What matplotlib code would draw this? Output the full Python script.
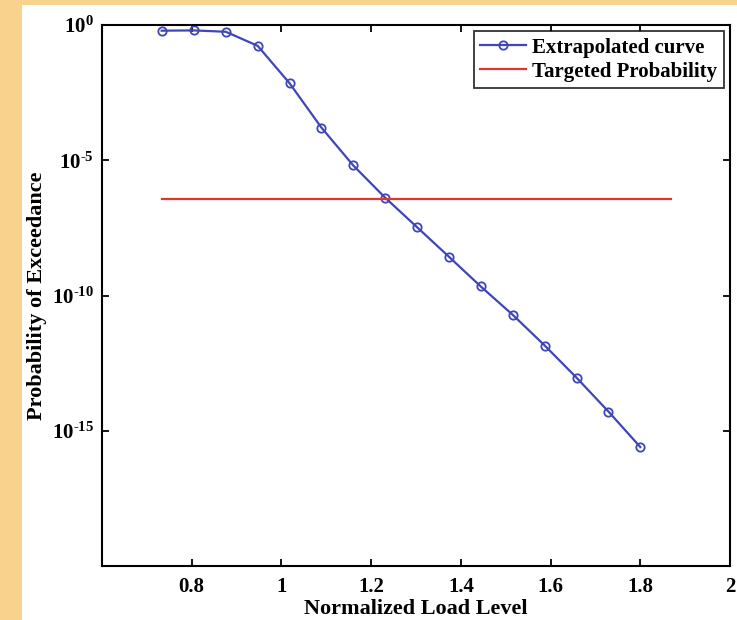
import numpy as np
import matplotlib
matplotlib.use("Agg")
import matplotlib.pyplot as plt
from matplotlib.patches import Rectangle
from matplotlib.ticker import FixedLocator, FixedFormatter

load_level = [0.733, 0.804, 0.876, 0.947, 1.018, 1.089, 1.160, 1.231,
              1.302, 1.373, 1.444, 1.516, 1.587, 1.658, 1.729, 1.800]
log_prob = [-0.21, -0.20, -0.25, -0.77, -2.15, -3.79, -5.19, -6.38,
            -7.47, -8.56, -9.66, -10.72, -11.85, -13.04, -14.29, -15.60]
target_prob = 3.7e-7
target_x = [0.733, 1.868]

ytick_vals = [1e-20, 1e-15, 1e-10, 1e-5, 1e0]
ytick_labels = ['', r'$10^{\text{-}15}$', r'$10^{\text{-}10}$', r'$10^{\text{-}5}$', r'$10^{0}$']
xtick_vals = [0.8, 1.0, 1.2, 1.4, 1.6, 1.8, 2.0]
xtick_labels = ['0.8', '1', '1.2', '1.4', '1.6', '1.8', '2']

plt.rcParams['font.family'] = ['Liberation Serif', 'DejaVu Serif']
plt.rcParams['font.weight'] = 'bold'
plt.rcParams['mathtext.fontset'] = 'custom'
plt.rcParams['mathtext.rm'] = 'Liberation Serif:bold'
plt.rcParams['mathtext.bf'] = 'Liberation Serif:bold'
plt.rcParams['mathtext.it'] = 'Liberation Serif:bold'

fig = plt.figure(figsize=(7.37, 6.2), dpi=100, facecolor='#F9D28E')
# white page area
fig.patches.append(Rectangle((22 / 737, 0), 1, 1 - 5 / 620, transform=fig.transFigure,
                             facecolor='white', edgecolor='none', zorder=-10))

ax = fig.add_axes([102 / 737, 1 - 566 / 620, (730 - 102) / 737, (566 - 25) / 620])
ax.set_facecolor('white')

prob = 10.0 ** np.array(log_prob)
ax.semilogy(load_level, prob, color='#3F46B8', lw=1.6, marker='o', markersize=6,
            markerfacecolor='none', markeredgewidth=1.3, label='Extrapolated curve')
ax.plot(target_x, [target_prob, target_prob], color='#E3352F', lw=1.6,
        label='Targeted Probability')

ax.set_xlim(0.6, 2.0)
ax.set_ylim(1e-20, 1e0)
ax.xaxis.set_major_locator(FixedLocator(xtick_vals))
ax.xaxis.set_major_formatter(FixedFormatter(xtick_labels))
ax.yaxis.set_major_locator(FixedLocator(ytick_vals))
ax.yaxis.set_major_formatter(FixedFormatter(ytick_labels))
ax.yaxis.set_minor_locator(FixedLocator([]))

ax.tick_params(direction='in', length=5, width=1.3, top=True, right=True,
               labelsize=15, pad=8)
ax.tick_params(axis='y', labelsize=15, pad=6)
for s in ax.spines.values():
    s.set_linewidth(1.5)

ax.set_xlabel('Normalized Load Level', fontsize=16, fontweight='bold', labelpad=1)
ax.set_ylabel('Probability of Exceedance', fontsize=16, fontweight='bold', labelpad=3)

leg = ax.legend(loc='upper right', fontsize=15, frameon=True, fancybox=False,
                borderaxespad=0.3, handlelength=2.2, borderpad=0.3,
                labelspacing=0.2, handletextpad=0.3)
leg.get_frame().set_edgecolor('black')
leg.get_frame().set_linewidth(1.3)

fig.savefig('out.png', dpi=100, facecolor=fig.get_facecolor())
